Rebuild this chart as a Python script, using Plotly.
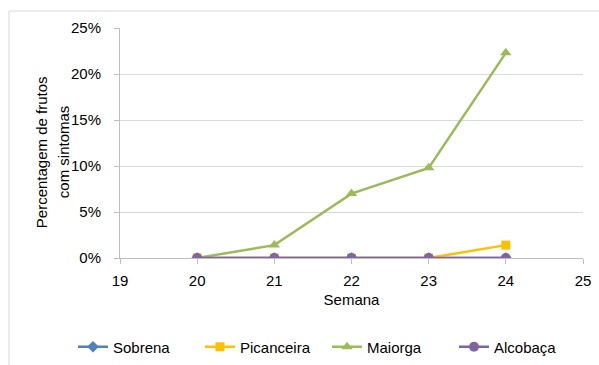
import plotly.graph_objects as go

# Weekly share of fruits with symptoms per orchard (%)
semanas = [20, 21, 22, 23, 24]
sobrena = [0, 0, 0, 0, 0]
picanceira = [0, 0, 0, 0, 1.4]
maiorga = [0, 1.4, 7.0, 9.8, 22.3]
alcobaca = [0, 0, 0, 0, 0]

x_ticks = [19, 20, 21, 22, 23, 24, 25]
y_ticks = [0, 5, 10, 15, 20, 25]
y_labels = ["0%", "5%", "10%", "15%", "20%", "25%"]
y_title_lines = ["Percentagem de frutos", "com sintomas"]

series = [
    ("Sobrena", sobrena, "#4F81BD", "diamond", 9),
    ("Picanceira", picanceira, "#FFC000", "square", 9),
    ("Maiorga", maiorga, "#9BBB59", "triangle-up", 10),
    ("Alcobaça", alcobaca, "#8064A2", "circle", 10),
]

fig = go.Figure()
for name, vals, color, symbol, size in series:
    fig.add_trace(go.Scatter(
        x=semanas, y=vals, name=name, mode="lines+markers",
        line=dict(color=color, width=2.5),
        marker=dict(symbol=symbol, size=size, color=color),
    ))

axis_font = dict(family="Liberation Sans, Arial, sans-serif", size=15, color="#000000")

# Two-line y-axis title, drawn as rotated annotations
title_x = [-0.1706, -0.1231]
annotations = [
    dict(text=t, xref="paper", yref="paper", x=xp, y=0.46, textangle=-90,
         showarrow=False, xanchor="center", yanchor="middle", font=axis_font)
    for t, xp in zip(y_title_lines, title_x)
]

fig.update_layout(
    width=599, height=365,
    margin=dict(l=120, r=16, t=28, b=107, autoexpand=False),
    paper_bgcolor="white", plot_bgcolor="white",
    font=axis_font,
    showlegend=True,
    legend=dict(orientation="h", x=-0.1015, xanchor="left", xref="paper",
                y=-0.387, yanchor="middle", yref="paper",
                font=axis_font, itemwidth=30, tracegroupgap=0,
                entrywidth=82, entrywidthmode="pixels"),
    xaxis=dict(
        range=[19, 25], tickvals=x_ticks, showgrid=False, zeroline=False,
        showline=True, linecolor="#BFBFBF", linewidth=1,
        ticks="outside", ticklen=5, tickcolor="#BFBFBF", ticklabelstandoff=4,
        title=dict(text="Semana", font=axis_font, standoff=6),
        tickfont=axis_font,
    ),
    yaxis=dict(
        range=[0, 25], tickvals=y_ticks, ticktext=y_labels,
        showgrid=True, gridcolor="#D9D9D9", gridwidth=1, zeroline=False,
        showline=True, linecolor="#BFBFBF", linewidth=1,
        ticks="outside", ticklen=5, tickcolor="#BFBFBF", ticklabelstandoff=10,
        tickfont=axis_font,
    ),
    annotations=annotations,
    shapes=[dict(type="rect", xref="paper", yref="paper",
                 x0=(9 - 120) / 463, x1=1.1, y0=-0.6, y1=(258 - 11) / 230,
                 line=dict(color="#D9D9D9", width=1), fillcolor="rgba(0,0,0,0)",
                 layer="below")],
)

fig.write_html("out.html")
